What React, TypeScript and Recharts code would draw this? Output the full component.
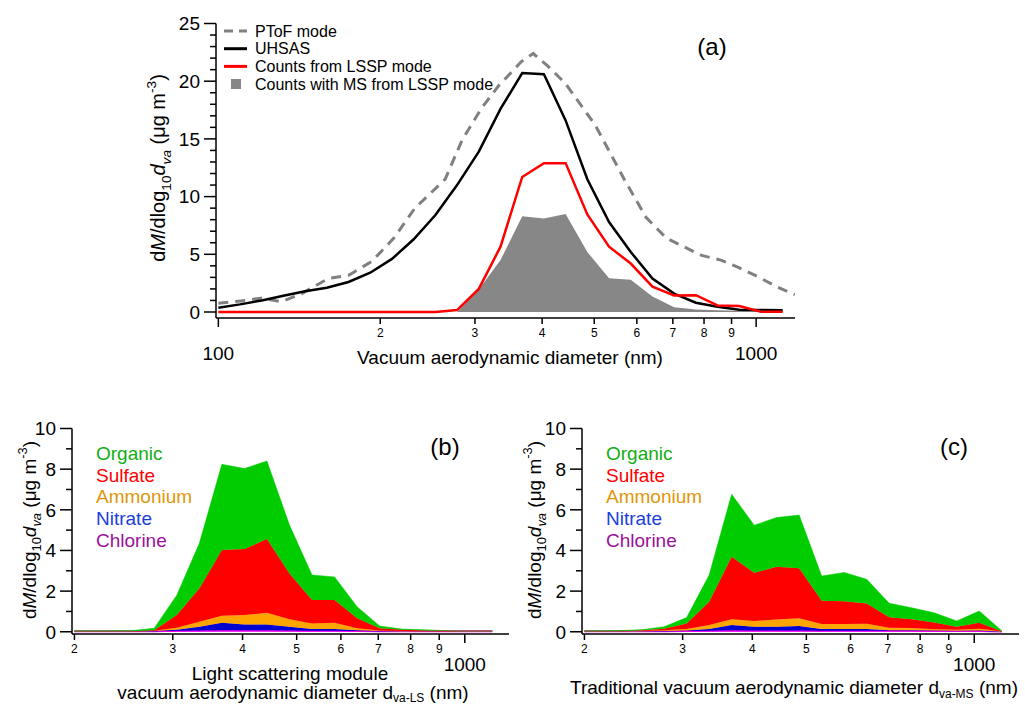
import React from 'react';
import { ComposedChart, Line, Area, XAxis, YAxis, Legend } from 'recharts';

const FONT = '"Liberation Sans", Arial, Helvetica, sans-serif';

// ---- panel (a): vacuum aerodynamic diameter bins (nm)
const binsA = [100, 109.7, 120.4, 132.1, 145, 159.1, 174.6, 191.6, 210.3, 230.8, 253.3, 277.9, 305, 334.7, 367.3, 403.1, 442.3, 485.4, 532.7, 584.6, 641.5, 703.9, 772.5, 847.7, 930.2, 1020.8, 1120.2];
const uhsas = [0.37, 0.66, 1.0, 1.4, 1.8, 2.1, 2.6, 3.4, 4.6, 6.3, 8.4, 11.0, 13.9, 17.6, 20.7, 20.6, 16.6, 11.5, 7.8, 5.2, 2.9, 1.6, 0.8, 0.45, 0.2, 0.17, 0.15];
const lsspCounts = [0, 0, 0, 0, 0, 0, 0, 0, 0, 0, 0, 0.17, 2.0, 5.66, 11.7, 12.9, 12.9, 8.46, 5.66, 4.2, 2.2, 1.43, 1.46, 0.57, 0.51, 0.03, 0.03];
const lsspWithMS = [null, null, null, null, null, null, null, null, null, null, null, 0, 1.94, 4.5, 8.3, 8.1, 8.5, 5.2, 2.92, 2.8, 1.35, 0.42, 0.22, 0.15, 0.1, 0.08, 0.06];

const ptofDiam = [100, 110, 120, 131, 143, 160, 175, 193, 212, 232, 264, 284, 309, 332, 366, 385, 410, 442, 502, 570, 624, 681, 792, 860, 922, 1003, 1091, 1180];
const ptofMass = [0.75, 0.95, 1.2, 0.9, 1.6, 2.9, 3.2, 4.4, 6.4, 9.0, 11.5, 14.9, 17.7, 19.6, 21.7, 22.4, 21.3, 19.8, 16.2, 11.4, 8.2, 6.4, 4.9, 4.5, 3.9, 3.1, 2.2, 1.5];

// ---- panels (b) and (c): species size distributions
const binsMS = [200, 210.3, 230.8, 253.3, 277.9, 305, 334.7, 367.3, 403.1, 442.3, 485.4, 532.7, 584.6, 641.5, 703.9, 772.5, 847.7, 930.2, 1020.8, 1120.2];

const chlLS = [0.03, 0.03, 0.03, 0.03, 0.03, 0.05, 0.06, 0.08, 0.07, 0.07, 0.06, 0.05, 0.05, 0.04, 0.03, 0.03, 0.03, 0.03, 0.03, 0.03];
const no3LS = [0, 0, 0, 0, 0.01, 0.05, 0.19, 0.36, 0.29, 0.29, 0.19, 0.08, 0.08, 0.03, 0.01, 0, 0, 0, 0, 0];
const nh4LS = [0, 0, 0, 0, 0.01, 0.1, 0.24, 0.35, 0.46, 0.57, 0.37, 0.28, 0.31, 0.1, 0.02, 0.01, 0, 0, 0, 0];
const so4LS = [0, 0, 0, 0, 0.02, 0.62, 1.64, 3.23, 3.25, 3.63, 2.25, 1.15, 1.12, 0.49, 0.11, 0.06, 0.03, 0.01, 0, 0];
const orgLS = [0.02, 0.02, 0.02, 0.03, 0.1, 0.98, 2.22, 4.22, 3.96, 3.84, 2.38, 1.23, 1.14, 0.57, 0.11, 0.03, 0.04, 0.01, 0, 0];

const chlMS = [0.03, 0.03, 0.03, 0.03, 0.03, 0.04, 0.05, 0.07, 0.06, 0.06, 0.06, 0.05, 0.05, 0.05, 0.05, 0.05, 0.04, 0.04, 0.04, 0.01];
const no3MS = [0, 0, 0, 0, 0.01, 0.02, 0.08, 0.26, 0.19, 0.19, 0.22, 0.08, 0.08, 0.08, 0.03, 0.02, 0.02, 0.01, 0.02, 0];
const nh4MS = [0, 0, 0, 0.02, 0.03, 0.07, 0.2, 0.29, 0.28, 0.35, 0.38, 0.25, 0.25, 0.26, 0.12, 0.11, 0.06, 0.05, 0.09, 0.01];
const so4MS = [0, 0, 0, 0.03, 0.08, 0.28, 1.15, 3.07, 2.37, 2.6, 2.46, 1.14, 1.12, 1.0, 0.51, 0.43, 0.34, 0.15, 0.29, 0];
const orgMS = [0.02, 0.02, 0.03, 0.02, 0.1, 0.29, 1.31, 3.08, 2.34, 2.42, 2.62, 1.22, 1.42, 1.19, 0.69, 0.57, 0.47, 0.28, 0.58, 0.03];

const species = ['Organic', 'Sulfate', 'Ammonium', 'Nitrate', 'Chlorine'];
const speciesText = ['#12ad12', '#ff0000', '#e0960a', '#1a3ee0', '#9a109a'];
const speciesFill = { Organic: '#00cc00', Sulfate: '#ff0000', Ammonium: '#ffa500', Nitrate: '#0000d0', Chlorine: '#ee00ee' };

const xTicksA = [100, 200, 300, 400, 500, 600, 700, 800, 900, 1000];
const xTicksMS = [200, 300, 400, 500, 600, 700, 800, 900, 1000];
const yTicksA = [0, 1, 2, 3, 4, 5, 6, 7, 8, 9, 10, 11, 12, 13, 14, 15, 16, 17, 18, 19, 20, 21, 22, 23, 24, 25];
const yTicksMS = [0, 1, 2, 3, 4, 5, 6, 7, 8, 9, 10];

const rowsA = binsA.map((d, i) => ({ d, uhsas: uhsas[i], lssp: lsspCounts[i], ms: lsspWithMS[i] }));
const rowsPtof = ptofDiam.map((d, i) => ({ d, ptof: ptofMass[i] }));
const rowsLS = binsMS.map((d, i) => ({ d, Chlorine: chlLS[i], Nitrate: no3LS[i], Ammonium: nh4LS[i], Sulfate: so4LS[i], Organic: orgLS[i] }));
const rowsMS = binsMS.map((d, i) => ({ d, Chlorine: chlMS[i], Nitrate: no3MS[i], Ammonium: nh4MS[i], Sulfate: so4MS[i], Organic: orgMS[i] }));

const AXIS = { stroke: '#000', strokeWidth: 1.5 };

function makeXTick(bigOffset: number) {
  return (props: any) => {
    const { x, y, payload } = props;
    const v = payload.value;
    const decade = v === 100 || v === 1000;
    return (
      <g>
        <line x1={x} x2={x} y1={y} y2={y + (decade ? 9 : 6)} stroke="#000" strokeWidth={1.5} />
        {decade ? (
          <text x={x} y={y + bigOffset} textAnchor="middle" fontSize={19} fill="#000">{String(v)}</text>
        ) : (
          <text x={x} y={y + 19} textAnchor="middle" fontSize={12} fill="#000">{String(v / 100)}</text>
        )}
      </g>
    );
  };
}

function makeYTick(step: number) {
  return (props: any) => {
    const { x, y, payload } = props;
    const v = payload.value;
    const major = v % step === 0;
    return (
      <g>
        <line x1={x - (major ? 12 : 6)} x2={x} y1={y} y2={y} stroke="#000" strokeWidth={1.5} />
        {major && (
          <text x={x - 16} y={y} dy="0.36em" textAnchor="end" fontSize={19} fill="#000">{String(v)}</text>
        )}
      </g>
    );
  };
}

function LegendA() {
  const rows = ['PToF mode', 'UHSAS', 'Counts from LSSP mode', 'Counts with MS from LSSP mode'];
  return (
    <svg width={300} height={80} style={{ fontFamily: FONT, overflow: 'visible' }}>
      <line x1={2} x2={25} y1={11} y2={11} stroke="#808080" strokeWidth={3} strokeDasharray="9 6" />
      <line x1={2} x2={25} y1={28.7} y2={28.7} stroke="#000" strokeWidth={3} />
      <line x1={2} x2={25} y1={46.4} y2={46.4} stroke="#ff0000" strokeWidth={3} />
      <rect x={9} y={59} width={10} height={10} fill="#878787" />
      {rows.map((r, i) => (
        <text key={r} x={33} y={11 + i * 17.7} dy="0.35em" fontSize={16} fill="#000">{r}</text>
      ))}
    </svg>
  );
}

function LegendSpecies() {
  return (
    <svg width={160} height={120} style={{ fontFamily: FONT, overflow: 'visible' }}>
      {species.map((s, i) => (
        <text key={s} x={0} y={13.3 + i * 21.7} dy="0.35em" fontSize={19} fill={speciesText[i]}>{s}</text>
      ))}
    </svg>
  );
}

function YTitle({ x, y, size }: { x: number; y: number; size: number }) {
  const sub = size * 0.68;
  return (
    <text transform={`translate(${x},${y}) rotate(-90)`} textAnchor="middle" fontSize={size} fill="#000">
      d<tspan fontStyle="italic">M</tspan>/dlog
      <tspan fontSize={sub} dy={size * 0.28}>10</tspan>
      <tspan fontStyle="italic" dy={-size * 0.28}>d</tspan>
      <tspan fontStyle="italic" fontSize={sub} dy={size * 0.28}>va</tspan>
      <tspan dy={-size * 0.28}>{' (μg m'}</tspan>
      <tspan fontSize={sub} dy={-size * 0.45}>-3</tspan>
      <tspan dy={size * 0.45}>)</tspan>
    </text>
  );
}

function SpeciesPanel({ rows, left, width, right, domain }: any) {
  return (
    <div style={{ position: 'absolute', left, top: 400 }}>
      <ComposedChart width={width} height={305} data={rows} margin={{ top: 28.5, right, bottom: 0, left: 0 }}>
        <XAxis dataKey="d" type="number" scale="log" domain={domain} allowDataOverflow ticks={xTicksMS} interval={0}
          tick={makeXTick(37)} tickLine={false} tickSize={0} tickMargin={0} height={71} axisLine={AXIS} />
        <YAxis type="number" domain={[-0.11, 10]} allowDataOverflow ticks={yTicksMS} interval={0} width={72}
          tick={makeYTick(2)} tickLine={false} tickSize={0} tickMargin={0} axisLine={AXIS} />
        {['Chlorine', 'Nitrate', 'Ammonium', 'Sulfate', 'Organic'].map((k) => (
          <Area key={k} type="linear" dataKey={k} stackId="s" fill={(speciesFill as any)[k]} fillOpacity={1}
            stroke={(speciesFill as any)[k]} strokeWidth={k === 'Chlorine' ? 2 : 0.5} isAnimationActive={false} />
        ))}
        <Legend layout="vertical" align="center" verticalAlign="middle" content={() => <LegendSpecies />}
          wrapperStyle={{ left: 96, top: 40, width: 160, height: 120 }} />
      </ComposedChart>
    </div>
  );
}

export default function App() {
  return (
    <div style={{ position: 'absolute', left: 0, top: 0, width: 1025, height: 705, background: '#fff', fontFamily: FONT, overflow: 'hidden' }}>
      <div style={{ position: 'absolute', left: 0, top: 0 }}>
        <ComposedChart width={820} height={380} data={rowsA} margin={{ top: 23.5, right: 25, bottom: 0, left: 0 }}>
          <XAxis dataKey="d" type="number" scale="log" domain={[99, 1181]} allowDataOverflow ticks={xTicksA} interval={0}
            tick={makeXTick(42)} tickLine={false} tickSize={0} tickMargin={0} height={62} axisLine={AXIS} />
          <YAxis type="number" domain={[-0.52, 25]} allowDataOverflow ticks={yTicksA} interval={0} width={216}
            tick={makeYTick(5)} tickLine={false} tickSize={0} tickMargin={0} axisLine={AXIS} />
          <Area type="linear" dataKey="ms" fill="#878787" fillOpacity={1} stroke="none" isAnimationActive={false} />
          <Line data={rowsPtof} type="linear" dataKey="ptof" stroke="#808080" strokeWidth={3} strokeDasharray="10 7"
            dot={false} isAnimationActive={false} />
          <Line type="linear" dataKey="uhsas" stroke="#000" strokeWidth={2.5} dot={false} isAnimationActive={false} />
          <Line type="linear" dataKey="lssp" stroke="#ff0000" strokeWidth={2.5} dot={false} isAnimationActive={false} />
          <Legend layout="vertical" align="center" verticalAlign="middle" content={() => <LegendA />}
            wrapperStyle={{ left: 222, top: 20, width: 300, height: 80 }} />
        </ComposedChart>
      </div>

      <SpeciesPanel rows={rowsLS} left={0} width={520} right={11} domain={[198, 1200]} />
      <SpeciesPanel rows={rowsMS} left={510} width={515} right={6} domain={[198, 1203]} />

      <svg width={1025} height={705} style={{ position: 'absolute', left: 0, top: 0, pointerEvents: 'none', fontFamily: FONT }}>
        <YTitle x={165} y={168} size={20} />
        <YTitle x={36} y={530} size={19} />
        <YTitle x={541} y={530} size={19} />
        <text x={712} y={55} textAnchor="middle" fontSize={24} fill="#000">(a)</text>
        <text x={445} y={455} textAnchor="middle" fontSize={24} fill="#000">(b)</text>
        <text x={954} y={455} textAnchor="middle" fontSize={24} fill="#000">(c)</text>
        <text x={510} y={364} textAnchor="middle" fontSize={19} fill="#000">Vacuum aerodynamic diameter (nm)</text>
        <text x={290} y={680} textAnchor="middle" fontSize={19} fill="#000">Light scattering module</text>
        <text x={293} y={699} textAnchor="middle" fontSize={19} fill="#000">
          vacuum aerodynamic diameter d<tspan fontSize={12} dy={3}>va-LS</tspan><tspan dy={-3}>{' (nm)'}</tspan>
        </text>
        <text x={794} y={694} textAnchor="middle" fontSize={19} fill="#000">
          Traditional vacuum aerodynamic diameter d<tspan fontSize={12} dy={4}>va-MS</tspan><tspan dy={-4}>{' (nm)'}</tspan>
        </text>
      </svg>
    </div>
  );
}
